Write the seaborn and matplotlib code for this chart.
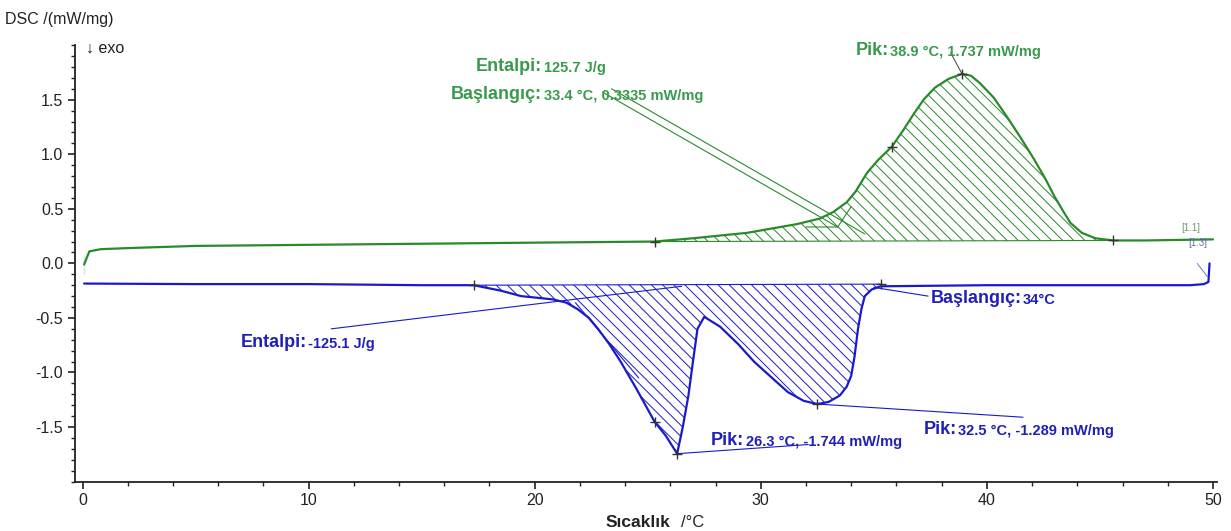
import numpy as np
import pandas as pd
import matplotlib
matplotlib.use("Agg")
import matplotlib.pyplot as plt
from matplotlib.ticker import MultipleLocator
import seaborn as sns

# DSC egrileri
green_x = [0.07, 0.07, 0.3, 0.8, 2, 5, 10, 15, 20, 25.3, 27, 29.4, 31.6, 32.6, 33.2, 33.8, 34.2,
           34.7, 35.2, 35.8, 36.3, 36.8, 37.2, 37.7, 38.3, 38.9, 39.3, 39.7, 40.3, 40.9, 41.5,
           42.1, 42.6, 43.0, 43.4, 43.7, 44.2, 44.8, 45.6, 47, 50]
green_y = [-0.10, 0.08, 0.11, 0.13, 0.14, 0.16, 0.17, 0.18, 0.19, 0.20, 0.23, 0.28, 0.36, 0.41,
           0.47, 0.56, 0.66, 0.83, 0.95, 1.07, 1.22, 1.38, 1.50, 1.61, 1.69, 1.737, 1.72, 1.65,
           1.52, 1.34, 1.15, 0.95, 0.77, 0.61, 0.47, 0.37, 0.28, 0.23, 0.21, 0.21, 0.22]

blue_x = [0.07, 5, 10, 15, 17.3, 18.5, 19.4, 20.8, 21.4, 21.9, 22.4, 22.8, 23.3, 23.8, 24.5, 25.3,
          25.8, 26.3, 26.55, 26.8, 27.0, 27.2, 27.5, 28.2, 29.0, 29.7, 30.5, 31.2, 31.9, 32.5,
          33.0, 33.5, 33.8, 34.0, 34.15, 34.3, 34.45, 34.6, 34.9, 35.3, 40, 45, 49.0, 49.6, 49.8, 49.85]
blue_y = [-0.185, -0.19, -0.19, -0.20, -0.20, -0.25, -0.30, -0.33, -0.36, -0.42, -0.50, -0.60,
          -0.74, -0.90, -1.15, -1.45, -1.58, -1.744, -1.50, -1.21, -0.90, -0.60, -0.49, -0.58,
          -0.74, -0.90, -1.05, -1.18, -1.26, -1.289, -1.27, -1.21, -1.13, -1.03, -0.85, -0.60,
          -0.42, -0.30, -0.24, -0.21, -0.20, -0.20, -0.20, -0.19, -0.17, 0.0]

# entegrasyon sinirlari (x1, y1, x2, y2)
green_base = (25.3, 0.20, 45.6, 0.21)
blue_base = (17.3, -0.20, 35.3, -0.19)

# isaretli noktalar
green_marks_x = [25.3, 35.8, 38.9, 45.6]
green_marks_y = [0.20, 1.07, 1.737, 0.21]
blue_marks_x = [17.3, 25.3, 26.3, 32.5, 35.3]
blue_marks_y = [-0.20, -1.45, -1.744, -1.289, -0.19]

GREEN = "#2a8a2a"
GREEN_TXT = "#3a9a4c"
BLUE = "#1a1acc"
BLUE_TXT = "#2020b8"

sns.set_theme(style="ticks")
plt.rcParams["font.family"] = ["Liberation Sans", "DejaVu Sans"]
plt.rcParams["hatch.linewidth"] = 0.7
plt.rcParams["axes.unicode_minus"] = False

fig = plt.figure(figsize=(12.31, 5.31), dpi=100)
ax = fig.add_axes([0.061, 0.093, 0.928, 0.822])

df_g = pd.DataFrame({"T": green_x, "DSC": green_y})
df_b = pd.DataFrame({"T": blue_x, "DSC": blue_y})
sns.lineplot(data=df_g, x="T", y="DSC", sort=False, color=GREEN, lw=1.6, ax=ax)
sns.lineplot(data=df_b, x="T", y="DSC", sort=False, color=BLUE, lw=1.6, ax=ax)


def hatch_area(xs, ys, base, color):
    xs = np.asarray(xs)
    ys = np.asarray(ys)
    x1, y1, x2, y2 = base
    m = (xs >= x1) & (xs <= x2)
    bl = np.interp(xs[m], [x1, x2], [y1, y2])
    ax.fill_between(xs[m], ys[m], bl, facecolor="none", edgecolor=color,
                    hatch="\\\\\\", linewidth=0)
    ax.plot([x1, x2], [y1, y2], color=color, lw=0.8)


hatch_area(green_x, green_y, green_base, GREEN)
hatch_area(blue_x, blue_y, blue_base, BLUE)

ax.scatter(green_marks_x, green_marks_y, marker="+", s=50, color="#333333", linewidths=1, zorder=5)
ax.scatter(blue_marks_x, blue_marks_y, marker="+", s=50, color="#333333", linewidths=1, zorder=5)

# yardimci cizgiler
thin = dict(lw=0.8)
ax.plot([23.0, 33.4], [1.57, 0.3335], color=GREEN, **thin)
ax.plot([23.4, 34.6], [1.60, 0.27], color=GREEN, **thin)
ax.plot([32.0, 33.4, 34.0], [0.3335, 0.3335, 0.52], color=GREEN, **thin)
ax.plot([38.4, 38.9], [1.93, 1.737], color="#555555", **thin)
ax.plot([11.0, 26.5], [-0.60, -0.21], color=BLUE, **thin)
ax.plot([21.8, 24.6], [-0.36, -1.05], color=BLUE, **thin)
ax.plot([35.0, 37.4], [-0.22, -0.30], color=BLUE, **thin)
ax.plot([26.3, 32.1], [-1.744, -1.66], color=BLUE, **thin)
ax.plot([32.5, 41.6], [-1.289, -1.41], color=BLUE, **thin)
ax.plot([49.3, 49.75], [0.0, -0.12], color="#6060c0", lw=0.6)


def label(x, y, head, val, color, hs=13, vs=10.5):
    t = ax.text(x, y, head, color=color, fontsize=hs, fontweight="bold", va="baseline")
    ax.annotate(val, xy=(1, 0), xycoords=t, xytext=(1, 0), textcoords="offset points",
                color=color, fontsize=vs, fontweight="bold", va="bottom",
                family=["Liberation Sans Narrow", "Liberation Sans"])


label(34.2, 1.91, "Pik:", "38.9 °C, 1.737 mW/mg", GREEN_TXT)
label(17.4, 1.76, "Entalpi:", "125.7 J/g", GREEN_TXT)
label(16.3, 1.51, "Başlangıç:", "33.4 °C, 0.3335 mW/mg", GREEN_TXT)
label(7.0, -0.77, "Entalpi:", "-125.1 J/g", BLUE_TXT)
label(37.5, -0.36, "Başlangıç:", "34°C", BLUE_TXT)
label(27.8, -1.66, "Pik:", "26.3 °C, -1.744 mW/mg", BLUE_TXT)
label(37.2, -1.56, "Pik:", "32.5 °C, -1.289 mW/mg", BLUE_TXT)

ax.text(48.6, 0.3, "[1.1]", color="#6a9a6a", fontsize=7)
ax.text(48.9, 0.16, "[1.3]", color="#6a6ab0", fontsize=7)
ax.text(0.15, 1.93, "↓ exo", color="#222222", fontsize=11.5)

ax.set_xlim(-0.33, 50.2)
ax.set_ylim(-2.0, 2.0)
ax.xaxis.set_major_locator(MultipleLocator(10))
ax.xaxis.set_minor_locator(MultipleLocator(2))
ax.yaxis.set_major_locator(MultipleLocator(0.5))
ax.yaxis.set_minor_locator(MultipleLocator(0.1))
ax.set_yticks([-1.5, -1.0, -0.5, 0.0, 0.5, 1.0, 1.5])
ax.tick_params(axis="both", which="major", length=5, width=1.2, labelsize=11.5,
               colors="#222222", direction="out")
ax.tick_params(axis="both", which="minor", length=3, width=1.0, color="#222222")
ax.set_xlabel("")
ax.set_ylabel("")
sns.despine(ax=ax)
for s in ["left", "bottom"]:
    ax.spines[s].set_color("#222222")
    ax.spines[s].set_linewidth(1.3)

fig.text(0.004, 0.955, "DSC /(mW/mg)", fontsize=11.5, color="#222222")
fig.text(0.545, 0.008, "Sıcaklık", fontsize=12.5, fontweight="bold", color="#222222", ha="right")
fig.text(0.553, 0.008, "/°C", fontsize=12, color="#222222", ha="left")

fig.savefig("out.png", dpi=100)
